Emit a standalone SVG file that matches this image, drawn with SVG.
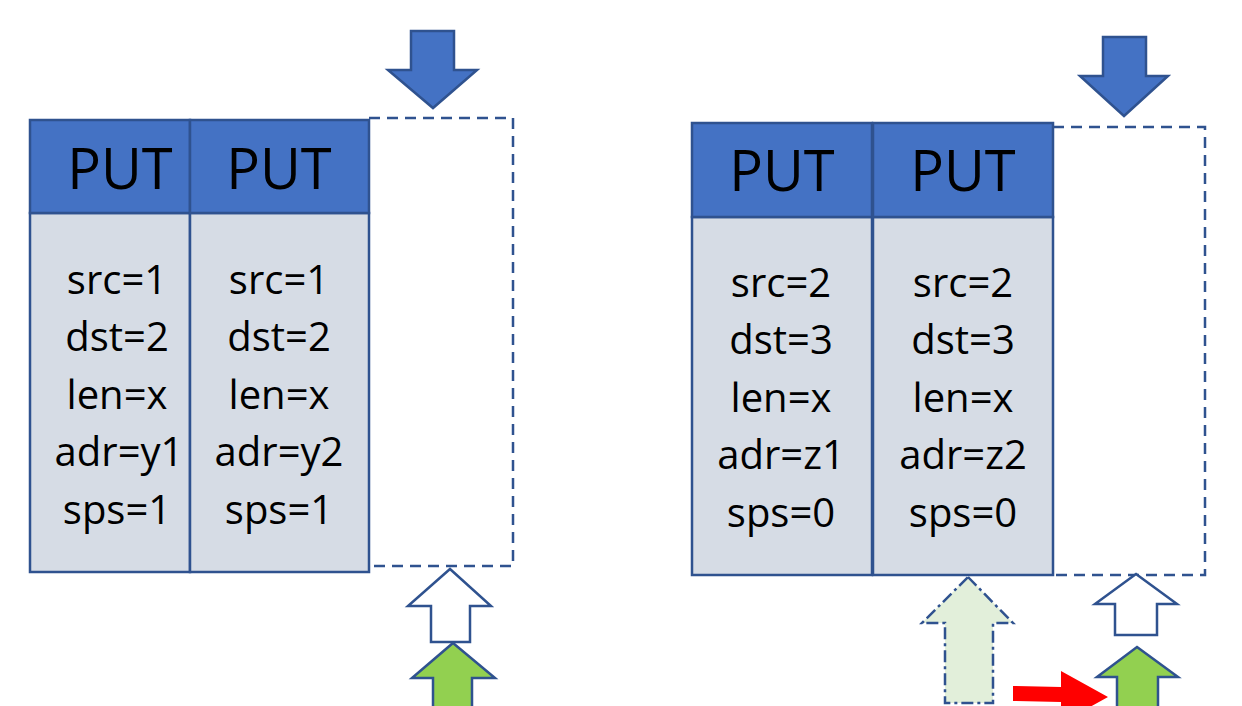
<svg xmlns="http://www.w3.org/2000/svg" width="1242" height="706" viewBox="0 0 1242 706">
  <style>
    .hdr { fill: #4472C4; stroke: #2F528F; stroke-width: 2.5; }
    .body { fill: #D6DCE5; stroke: #2F528F; stroke-width: 2.5; }
    .slot { fill: none; stroke: #2F528F; stroke-width: 2.5; stroke-dasharray: 11 7; }
    .down { fill: #4472C4; stroke: #2F528F; stroke-width: 2.5; stroke-linejoin: miter; }
    .up-empty { fill: #FFFFFF; stroke: #2F528F; stroke-width: 2.5; }
    .up-full { fill: #92D050; stroke: #2F528F; stroke-width: 2.5; }
    .up-ghost { fill: #E2EFDA; stroke: #2F528F; stroke-width: 2.5; stroke-dasharray: 12 4 3 4; }
    .push { fill: #FF0000; }
    .title { font-family: "Open Sans", "Liberation Sans", sans-serif; font-size: 56px; fill: #000; text-anchor: middle; }
    .field { font-family: "Open Sans", "Liberation Sans", sans-serif; font-size: 40px; fill: #000; text-anchor: middle; }
  </style>

  <!-- left queue: two PUT entries and an empty slot -->
  <g id="q1-put1">
    <rect class="body" x="30" y="213" width="160" height="359"/>
    <rect class="hdr" x="30" y="120" width="160" height="93"/>
    <text class="title" x="120" y="189">PUT</text>
    <text class="field" x="117" y="294">src=1</text>
    <text class="field" x="117" y="351">dst=2</text>
    <text class="field" x="117" y="409">len=x</text>
    <text class="field" x="119" y="466">adr=y1</text>
    <text class="field" x="117" y="524">sps=1</text>
  </g>
  <g id="q1-put2">
    <rect class="body" x="190" y="213" width="179" height="359"/>
    <rect class="hdr" x="190" y="120" width="179" height="93"/>
    <text class="title" x="279" y="189">PUT</text>
    <text class="field" x="279" y="294">src=1</text>
    <text class="field" x="279" y="351">dst=2</text>
    <text class="field" x="279" y="409">len=x</text>
    <text class="field" x="279" y="466">adr=y2</text>
    <text class="field" x="279" y="524">sps=1</text>
  </g>
  <g id="q1-slot">
    <polyline class="slot" points="369,118 513,118 513,566 369,566"/>
  </g>

  <!-- right queue: two PUT entries and an empty slot -->
  <g id="q2-put1">
    <rect class="body" x="692" y="217" width="180" height="358"/>
    <rect class="hdr" x="692" y="123" width="180" height="94"/>
    <text class="title" x="782" y="191">PUT</text>
    <text class="field" x="781" y="297">src=2</text>
    <text class="field" x="781" y="354">dst=3</text>
    <text class="field" x="781" y="412">len=x</text>
    <text class="field" x="781" y="469">adr=z1</text>
    <text class="field" x="781" y="527">sps=0</text>
  </g>
  <g id="q2-put2">
    <rect class="body" x="873" y="217" width="180" height="358"/>
    <rect class="hdr" x="873" y="123" width="180" height="94"/>
    <text class="title" x="963" y="191">PUT</text>
    <text class="field" x="963" y="297">src=2</text>
    <text class="field" x="963" y="354">dst=3</text>
    <text class="field" x="963" y="412">len=x</text>
    <text class="field" x="963" y="469">adr=z2</text>
    <text class="field" x="963" y="527">sps=0</text>
  </g>
  <g id="q2-slot">
    <polyline class="slot" points="1053,127 1205,127 1205,575 1053,575"/>
  </g>

  <!-- block arrows -->
  <g id="connectors">
    <polygon class="down" points="411,31 454,31 454,70 477,70 433,108 388,70 411,70"/>
    <polygon class="up-empty" points="450,569 491,606 470,606 470,642 431,642 431,606 408,606"/>
    <polygon class="up-full" points="453,643 495,678 472,678 472,720 433,720 433,678 412,678"/>

    <polygon class="down" points="1103,37 1146,37 1146,76 1168,76 1124,116 1080,76 1103,76"/>
    <polygon class="up-ghost" points="968,577 1013,623 993,623 993,703 945,703 945,623 922,623"/>
    <polygon class="up-empty" points="1136,574 1177,604 1157,604 1157,635 1115,635 1115,604 1095,604"/>
    <polygon class="up-full" points="1137,647 1178,677 1158,677 1158,720 1117,720 1117,677 1097,677"/>
    <polygon class="push" points="1013,686 1061,687 1061,671 1108,697 1061,723 1061,702 1013,701"/>
  </g>
</svg>
